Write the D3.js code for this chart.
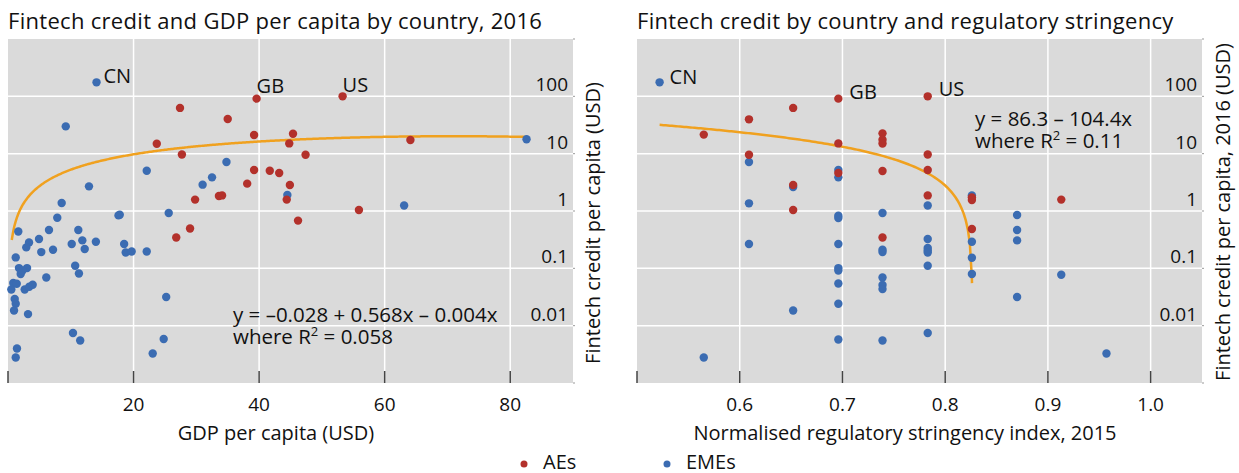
<!DOCTYPE html>
<html>
<head>
<meta charset="utf-8">
<script src="https://cdn.jsdelivr.net/npm/d3@7"></script>
<style>
  body { margin: 0; background: #fff; }
  text { font-family: "Open Sans", sans-serif; fill: #111; }
</style>
</head>
<body>
<div id="chart"></div>
<script>
// left panel: [GDP per capita, fintech credit per capita, label]
const gdpAEs = [
    [39.6, 91.2, "GB"], [53.3, 100, "US"], [27.4, 62.8], [35.0, 40.3], [39.2, 21.2], [45.4, 22.3],
    [44.8, 15.1], [23.7, 14.9], [27.7, 9.7], [47.4, 9.6], [64.1, 17.3], [39.2, 5.2],
    [41.7, 5.05], [43.2, 4.6], [38.1, 3.0], [44.9, 2.84], [44.4, 1.58], [29.8, 1.58],
    [33.6, 1.83], [34.1, 1.87], [46.2, 0.68], [29.0, 0.495], [26.8, 0.346], [55.9, 1.04]
];
const gdpEMEs = [
    [14.1, 175.5, "CN"], [9.2, 29.9], [82.6, 17.8], [34.8, 7.16], [22.1, 5.05], [32.5, 3.86],
    [31.0, 2.88], [12.9, 2.69], [44.5, 1.9], [63.1, 1.25], [8.55, 1.38], [7.85, 0.764],
    [17.6, 0.838], [17.8, 0.862], [25.6, 0.923], [1.64, 0.44], [6.53, 0.466], [11.2, 0.466],
    [4.94, 0.325], [3.35, 0.283], [2.91, 0.232], [5.3, 0.192], [7.17, 0.211], [10.15, 0.266],
    [11.84, 0.307], [12.22, 0.217], [14.0, 0.291], [18.5, 0.266], [18.75, 0.189], [19.7, 0.197],
    [22.1, 0.197], [1.23, 0.155], [1.75, 0.101], [3.03, 0.101], [2.02, 0.0796], [2.28, 0.0908],
    [10.7, 0.111], [11.3, 0.0815], [6.1, 0.0694], [0.84, 0.0554], [1.39, 0.0538], [0.53, 0.0428],
    [2.66, 0.0428], [3.39, 0.0478], [3.93, 0.0517], [1.07, 0.0291], [1.23, 0.0241], [0.96, 0.0184],
    [3.19, 0.0159], [25.2, 0.0316], [10.35, 0.00743], [11.5, 0.00552], [1.43, 0.004], [1.23, 0.00279],
    [24.8, 0.00584], [23.05, 0.00327]
];

// right panel: [regulatory stringency index, fintech credit per capita, label]
const regAEs = [
    [0.565, 21.5], [0.609, 39.7], [0.609, 9.6], [0.652, 62.8], [0.652, 2.84], [0.652, 1.04],
    [0.696, 91.2, "GB"], [0.696, 15.1], [0.696, 4.6], [0.739, 22.6], [0.739, 17.5], [0.739, 15.0],
    [0.739, 4.99], [0.739, 0.346], [0.783, 100, "US"], [0.783, 9.7], [0.783, 5.2], [0.783, 1.87],
    [0.826, 1.73], [0.826, 1.56], [0.826, 0.485], [0.913, 1.58]
];
const regEMEs = [
    [0.522, 175.5, "CN"], [0.565, 0.00279], [0.609, 7.16], [0.609, 1.36], [0.609, 0.266],
    [0.652, 2.62], [0.652, 0.0184], [0.696, 5.2], [0.696, 3.86], [0.696, 0.828], [0.696, 0.755],
    [0.696, 0.266], [0.696, 0.101], [0.696, 0.0919], [0.696, 0.0545], [0.696, 0.0241], [0.696, 0.00574],
    [0.739, 0.923], [0.739, 0.211], [0.739, 0.192], [0.739, 0.0694], [0.739, 0.0511], [0.739, 0.0434],
    [0.739, 0.00552], [0.783, 1.25], [0.783, 0.325], [0.783, 0.226], [0.783, 0.205], [0.783, 0.189],
    [0.783, 0.111], [0.783, 0.00743], [0.826, 1.87], [0.826, 0.291], [0.826, 0.153], [0.826, 0.0796],
    [0.870, 0.851], [0.870, 0.466], [0.870, 0.307], [0.870, 0.0316], [0.913, 0.0773], [0.957, 0.00327]
];

const gdpTicks = [20, 40, 60, 80];
const regTicks = [0.6, 0.7, 0.8, 0.9, 1.0];
const yTicks = [0.01, 0.1, 1, 10, 100];
const yTickLabels = ["0.01", "0.1", "1", "10", "100"];

// fitted lines as printed on the chart
const gdpFit = [-0.028, 0.568, -0.004];
const regFit = [86.3, -104.4];

const width = 1239, height = 473;
const plotTop = 39, plotBottom = 383;
const red = "#b3312b", blue = "#3b6cb2", orange = "#f0a11f";

const svg = d3.select("#chart").append("svg")
    .attr("width", width)
    .attr("height", height);

const y = d3.scaleLog().domain([0.001, 1000]).range([plotBottom, plotTop]);

function drawPanel(p) {
    const x = d3.scaleLinear().domain(p.domain).range([p.left, p.right]);
    const g = svg.append("g");

    g.append("text")
        .attr("x", p.left)
        .attr("y", 29)
        .style("font-size", "22px")
        .style("letter-spacing", "0.3px")
        .text(p.title);

    g.append("rect")
        .attr("x", p.left).attr("y", plotTop)
        .attr("width", p.right - p.left).attr("height", plotBottom - plotTop)
        .attr("fill", "#dadada");

    g.selectAll(".vgrid").data(p.ticks).join("line")
        .attr("x1", d => x(d)).attr("x2", d => x(d))
        .attr("y1", plotTop).attr("y2", plotBottom)
        .attr("stroke", "#fff").attr("stroke-width", 1.5);

    g.selectAll(".hgrid").data(yTicks).join("line")
        .attr("x1", p.left).attr("x2", p.right)
        .attr("y1", d => y(d)).attr("y2", d => y(d))
        .attr("stroke", "#fff").attr("stroke-width", 1.5);

    // small ticks on the right edge
    g.selectAll(".rtick").data(yTicks.concat([0.001, 1000])).join("line")
        .attr("x1", p.right).attr("x2", p.right + 2)
        .attr("y1", d => y(d)).attr("y2", d => y(d))
        .attr("stroke", "#999").attr("stroke-width", 1);

    // bottom ticks
    g.selectAll(".btick").data([p.domain[0]].concat(p.ticks)).join("line")
        .attr("x1", d => x(d)).attr("x2", d => x(d))
        .attr("y1", plotBottom - 12).attr("y2", plotBottom)
        .attr("stroke", "#444").attr("stroke-width", 1.5);

    g.selectAll(".xlab").data(p.ticks).join("text")
        .attr("x", d => x(d))
        .attr("y", 411)
        .attr("text-anchor", "middle")
        .style("font-size", "19px")
        .text(d => p.fmt(d));

    g.selectAll(".ylab").data(yTicks).join("text")
        .attr("x", p.right - 5)
        .attr("y", d => y(d) - 5)
        .attr("text-anchor", "end")
        .style("font-size", "19px")
        .text((d, i) => yTickLabels[i]);

    g.append("text")
        .attr("x", (p.left + p.right) / 2 - 14.5)
        .attr("y", 440)
        .attr("text-anchor", "middle")
        .style("font-size", "20px")
        .text(p.xTitle);

    g.append("text")
        .attr("transform", `translate(${p.yTitleX},${p.yTitleY}) rotate(-90)`)
        .attr("text-anchor", "middle")
        .style("font-size", "20px")
        .text(p.yTitle);

    // fit curve
    const line = d3.line().x(d => x(d[0])).y(d => y(d[1]));
    g.append("path")
        .datum(p.curve)
        .attr("d", line)
        .attr("fill", "none")
        .attr("stroke", orange)
        .attr("stroke-width", 2.5);

    const pts = p.eme.map(d => ({ d, c: blue })).concat(p.ae.map(d => ({ d, c: red })));
    g.selectAll(".pt").data(pts).join("circle")
        .attr("cx", o => x(o.d[0]))
        .attr("cy", o => y(o.d[1]))
        .attr("r", 4.2)
        .attr("fill", o => o.c);

    g.selectAll(".lab").data(pts.filter(o => o.d[2])).join("text")
        .attr("x", o => x(o.d[0]) + p.labelOff[o.d[2]][0])
        .attr("y", o => y(o.d[1]) + p.labelOff[o.d[2]][1])
        .style("font-size", "20px")
        .text(o => o.d[2]);

    const eq = g.append("text")
        .attr("x", p.eqX)
        .attr("y", p.eqY)
        .style("font-size", "20.5px");
    eq.append("tspan").text(p.eq);
    eq.append("tspan").attr("x", p.eqX).attr("dy", 22).text("where R");
    eq.append("tspan").attr("dy", -8).style("font-size", "13px").text("2");
    eq.append("tspan").attr("dy", 8).text(" = " + p.r2);
}

// evaluate fitted equations along the data range
const gdpXs = d3.range(0.6, 82.6, 0.2);
const gdpCurve = gdpXs.map(v => [v, gdpFit[0] + gdpFit[1] * v + gdpFit[2] * v * v]);
const regMin = d3.min(regEMEs.concat(regAEs), d => d[0]);
const regXs = d3.range(regMin, 0.8261, 0.002).concat([0.8261]);
const regCurve = regXs.map(v => [v, regFit[0] + regFit[1] * v]).filter(d => d[1] > 0);

drawPanel({
    left: 8, right: 573, domain: [0, 90], ticks: gdpTicks, fmt: d => d,
    title: "Fintech credit and GDP per capita by country, 2016",
    xTitle: "GDP per capita (USD)",
    yTitle: "Fintech credit per capita (USD)", yTitleX: 600, yTitleY: 223,
    ae: gdpAEs, eme: gdpEMEs, curve: gdpCurve,
    labelOff: { CN: [7, 1], GB: [0, -6], US: [0, -4] },
    eq: "y = \u20130.028 + 0.568x \u2013 0.004x", r2: "0.058", eqX: 233, eqY: 322
});

drawPanel({
    left: 637, right: 1202, domain: [0.5, 1.05], ticks: regTicks, fmt: d => d.toFixed(1),
    title: "Fintech credit by country and regulatory stringency",
    xTitle: "Normalised regulatory stringency index, 2015",
    yTitle: "Fintech credit per capita, 2016 (USD)", yTitleX: 1230, yTitleY: 212,
    ae: regAEs, eme: regEMEs, curve: regCurve,
    labelOff: { CN: [10, 2], GB: [11, 0], US: [11, 0] },
    eq: "y = 86.3 \u2013 104.4x", r2: "0.11", eqX: 975, eqY: 126
});

// legend
const legend = [["AEs", red, 524], ["EMEs", blue, 667]];
const lg = svg.selectAll(".legend").data(legend).join("g");
lg.append("circle")
    .attr("cx", d => d[2]).attr("cy", 464).attr("r", 3.5)
    .attr("fill", d => d[1]);
lg.append("text")
    .attr("x", d => d[2] + 19).attr("y", 469)
    .style("font-size", "20px")
    .text(d => d[0]);
</script>
</body>
</html>
